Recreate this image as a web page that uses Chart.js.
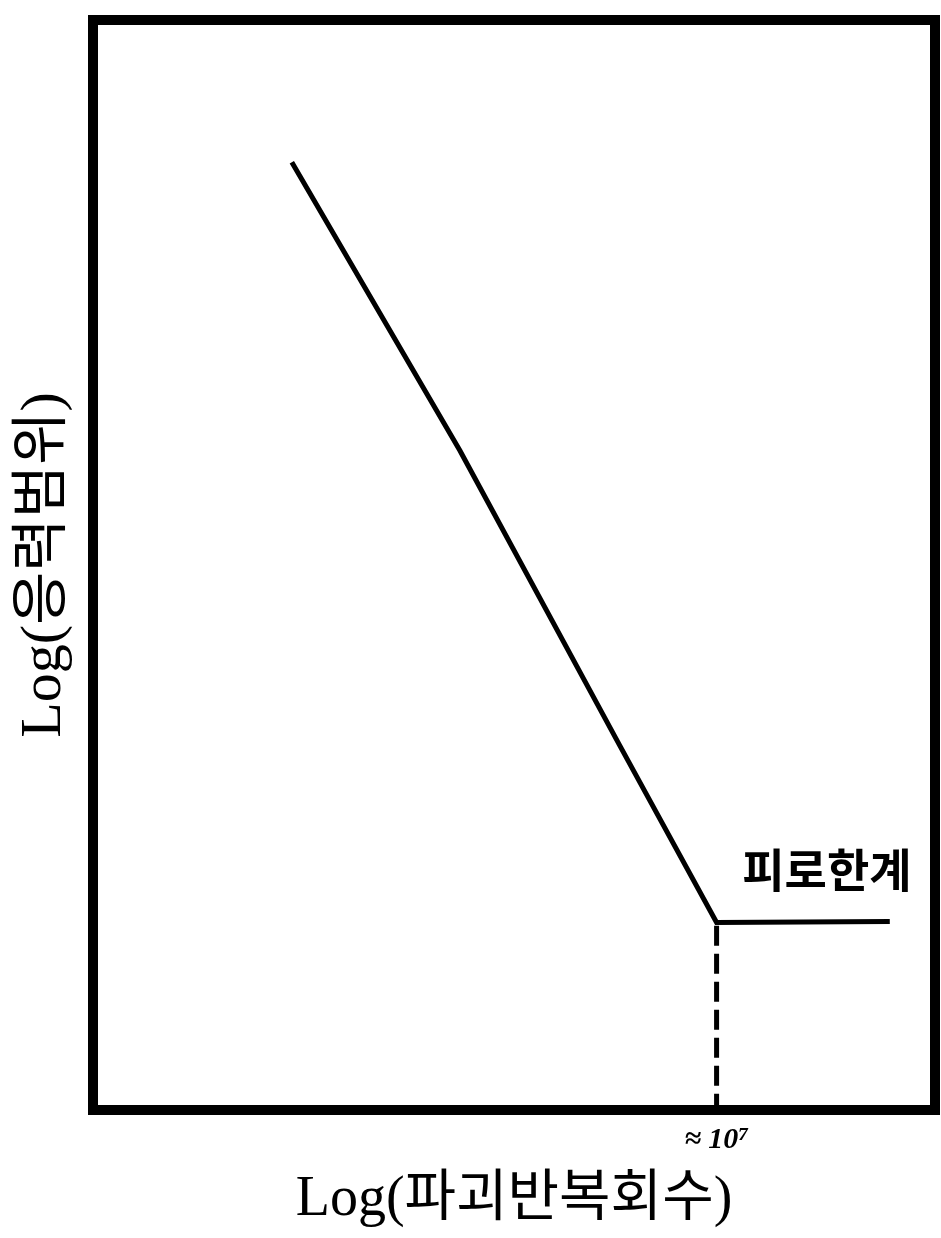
<!DOCTYPE html>
<html>
<head>
<meta charset="utf-8">
<script src="https://cdn.jsdelivr.net/npm/chart.js@4/dist/chart.umd.min.js"></script>
<style>
  body { margin: 0; background: #fff; }
  canvas { display: block; }
</style>
</head>
<body>
<canvas id="graficoSN" width="941" height="1238"></canvas>
<script>
// S-N 곡선 (log N, log S) - 값은 그림에서 읽은 것
const logN = [2.88, 4.51, 6.06, 7.0, 8.68];
const logS = [8.73, 6.06, 3.33, 1.69, 1.70];

// 피로한계 위치의 점선
const limiteN = [7.0, 7.0];
const limiteS = [1.66, 0];

const xTickValues = [7];
const xTickLabels = ['≈ 10⁷'];

const rotuloTexto = '피로한계';
const rotuloPos = [8.07, 2.18];

const xTitulo = 'Log(파괴반복회수)';
const yTitulo = 'Log(응력범위)';

const serif = "'Liberation Serif', 'Noto Sans CJK KR', serif";

// moldura grossa em volta da area do grafico
const chartAreaBorder = {
    id: 'chartAreaBorder',
    afterDraw(chart) {
        const { ctx, chartArea: { left, top, right, bottom } } = chart;
        ctx.save();
        ctx.strokeStyle = '#000';
        ctx.lineWidth = 10;
        ctx.strokeRect(left - 5, top - 5, right - left + 10, bottom - top + 10);
        ctx.restore();
    }
};

const rotuloLimite = {
    id: 'rotuloLimite',
    afterDatasetsDraw(chart) {
        const { ctx, scales: { x, y } } = chart;
        ctx.save();
        ctx.fillStyle = '#000';
        ctx.font = "bold 46px 'Noto Sans CJK KR', sans-serif";
        ctx.textAlign = 'center';
        ctx.textBaseline = 'middle';
        ctx.fillText(rotuloTexto, x.getPixelForValue(rotuloPos[0]), y.getPixelForValue(rotuloPos[1]));
        ctx.restore();
    }
};

const grafico = new Chart(document.getElementById('graficoSN'), {
    type: 'line',
    data: {
        datasets: [{
            data: logN.map((v, i) => ({ x: v, y: logS[i] })),
            borderColor: '#000',
            borderWidth: 5,
            pointRadius: 0,
            tension: 0
        }, {
            data: limiteN.map((v, i) => ({ x: v, y: limiteS[i] })),
            borderColor: '#000',
            borderWidth: 5,
            borderDash: [20, 8],
            pointRadius: 0
        }]
    },
    options: {
        responsive: false,
        animation: false,
        layout: {
            padding: { top: 25, right: 11, left: 0, bottom: 0 }
        },
        plugins: {
            legend: { display: false },
            tooltip: { enabled: false }
        },
        scales: {
            x: {
                type: 'linear',
                min: 1,
                max: 9.07,
                afterBuildTicks: scale => {
                    scale.ticks = xTickValues.map(v => ({ value: v }));
                },
                afterFit: scale => { scale.height = 133; },
                ticks: {
                    color: '#000',
                    padding: 20,
                    autoSkip: false,
                    maxRotation: 0,
                    font: { size: 30, style: 'italic', weight: 'bold', family: serif, lineHeight: 1 },
                    callback: value => {
                        const i = xTickValues.indexOf(value);
                        return i >= 0 ? xTickLabels[i] : '';
                    }
                },
                grid: { display: false, drawTicks: false },
                border: { display: false },
                title: {
                    display: true,
                    text: xTitulo,
                    color: '#000',
                    font: { size: 56, family: serif, lineHeight: 1 },
                    padding: { top: 20, bottom: 10 }
                }
            },
            y: {
                type: 'linear',
                min: 0,
                max: 10,
                afterFit: scale => { scale.width = 98; },
                ticks: { display: false },
                grid: { display: false, drawTicks: false },
                border: { display: false },
                title: {
                    display: true,
                    text: yTitulo,
                    color: '#000',
                    font: { size: 58, family: serif, lineHeight: 1 },
                    padding: { top: 16, bottom: 24 }
                }
            }
        }
    },
    plugins: [chartAreaBorder, rotuloLimite]
});
</script>
</body>
</html>
